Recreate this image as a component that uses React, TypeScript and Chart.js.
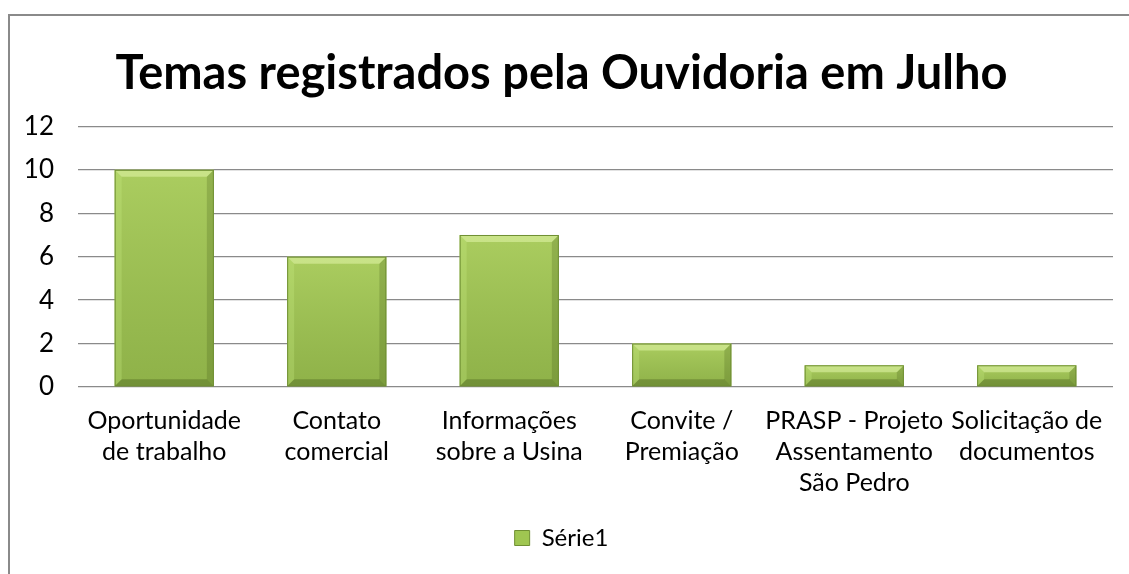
import React, { useEffect, useRef } from "react";
import { Chart, registerables } from "chart.js";

Chart.register(...registerables);

const chartTitle = "Temas registrados pela Ouvidoria em Julho";
const seriesName = "Série1";
const categories: string[][] = [
  ["Oportunidade", "de trabalho"],
  ["Contato", "comercial"],
  ["Informações", "sobre a Usina"],
  ["Convite /", "Premiação"],
  ["PRASP - Projeto", "Assentamento", "São Pedro"],
  ["Solicitação de", "documentos"],
];
const values: number[] = [10, 6, 7, 2, 1, 1];
const yTicks = { min: 0, max: 12, step: 2 };

const FONT = "Lato, 'Open Sans', sans-serif";

const bevelPlugin = {
  id: "bevel",
  afterDatasetsDraw(chart: any) {
    const c: CanvasRenderingContext2D = chart.ctx;
    const meta = chart.getDatasetMeta(0);
    meta.data.forEach((bar: any) => {
      const { x, y, base, width } = bar.getProps(["x", "y", "base", "width"], true);
      const l = x - width / 2;
      const r = x + width / 2;
      const t = y;
      const b = base;
      const h = b - t;
      const bv = Math.min(7, h / 2.5);
      c.save();
      const g = c.createLinearGradient(0, t, 0, b);
      g.addColorStop(0, "rgba(255,255,200,0.12)");
      g.addColorStop(1, "rgba(0,0,0,0.10)");
      c.fillStyle = g;
      c.fillRect(l, t, width, h);
      c.beginPath();
      c.moveTo(l, t);
      c.lineTo(r, t);
      c.lineTo(r - bv, t + bv);
      c.lineTo(l + bv, t + bv);
      c.closePath();
      c.fillStyle = "rgba(225,245,170,0.55)";
      c.fill();
      c.beginPath();
      c.moveTo(l, t);
      c.lineTo(l + bv, t + bv);
      c.lineTo(l + bv, b - bv);
      c.lineTo(l, b);
      c.closePath();
      c.fillStyle = "rgba(200,235,130,0.30)";
      c.fill();
      c.beginPath();
      c.moveTo(r, t);
      c.lineTo(r, b);
      c.lineTo(r - bv, b - bv);
      c.lineTo(r - bv, t + bv);
      c.closePath();
      c.fillStyle = "rgba(60,80,20,0.22)";
      c.fill();
      c.beginPath();
      c.moveTo(l, b);
      c.lineTo(r, b);
      c.lineTo(r - bv, b - bv);
      c.lineTo(l + bv, b - bv);
      c.closePath();
      c.fillStyle = "rgba(50,70,15,0.30)";
      c.fill();
      c.strokeStyle = "#6f8f33";
      c.lineWidth = 1;
      c.strokeRect(l + 0.5, t + 0.5, width - 1, h - 1);
      c.restore();
    });
  },
};

export default function App() {
  const canvasRef = useRef<HTMLCanvasElement | null>(null);

  useEffect(() => {
    if (!canvasRef.current) return;
    const chart = new Chart(canvasRef.current, {
      type: "bar",
      data: {
        labels: categories,
        datasets: [
          {
            label: seriesName,
            data: values,
            backgroundColor: "#9fc651",
            borderWidth: 0,
            categoryPercentage: 1,
            barPercentage: 0.575,
          },
        ],
      },
      options: {
        animation: false,
        responsive: true,
        maintainAspectRatio: false,
        layout: { padding: { left: 0, right: 16, top: 0, bottom: 14 } },
        plugins: {
          title: {
            display: true,
            text: chartTitle,
            color: "#000",
            font: { family: FONT, size: 47, weight: "bold", lineHeight: 1.2 },
            padding: { top: 30, bottom: 24 },
          },
          legend: {
            display: true,
            position: "bottom",
            labels: {
              color: "#000",
              font: { family: FONT, size: 24 },
              boxWidth: 15,
              boxHeight: 15,
              padding: 6,
              generateLabels: () => [
                {
                  text: seriesName,
                  fillStyle: "#9fc651",
                  strokeStyle: "#6f8f33",
                  lineWidth: 1,
                  hidden: false,
                  datasetIndex: 0,
                  fontColor: "#000",
                },
              ],
            },
          },
          tooltip: { enabled: false },
        },
        scales: {
          x: {
            grid: { display: false },
            border: { display: false },
            ticks: {
              color: "#000",
              font: { family: FONT, size: 25, lineHeight: 1.24 },
              maxRotation: 0,
              minRotation: 0,
              autoSkip: false,
              padding: 10,
            },
            afterFit: (scale: any) => {
              scale.height = 133;
            },
          },
          y: {
            min: yTicks.min,
            max: yTicks.max,
            border: { display: false },
            grid: { color: "#8a8a8a", lineWidth: 1.3, drawTicks: false },
            ticks: {
              stepSize: yTicks.step,
              color: "#000",
              font: { family: FONT, size: 26 },
              padding: 24,
            },
            afterFit: (scale: any) => {
              scale.width = 68;
            },
          },
        },
      },
      plugins: [bevelPlugin],
    });
    return () => chart.destroy();
  }, []);

  return (
    <div
      style={{
        position: "fixed",
        left: 8,
        top: 14,
        width: "calc(100vw - 8px)",
        height: "calc(100vh - 14px)",
        borderLeft: "2px solid #8a8a8a",
        borderTop: "2px solid #8a8a8a",
        background: "#fff",
        boxSizing: "border-box",
      }}
    >
      <div style={{ position: "relative", width: "100%", height: "100%" }}>
        <canvas ref={canvasRef} />
      </div>
    </div>
  );
}
